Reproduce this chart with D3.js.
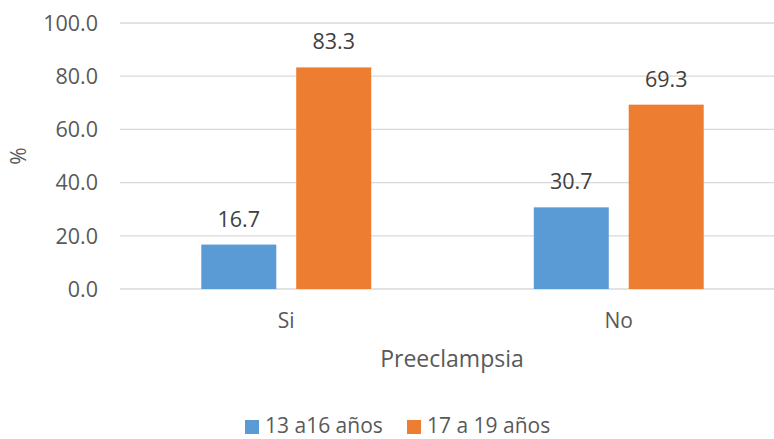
<!DOCTYPE html>
<html>
<head>
<meta charset="utf-8">
<script src="https://cdn.jsdelivr.net/npm/d3@7"></script>
<style>
  html, body { margin: 0; padding: 0; background: #fff; }
  svg { display: block; }
  text { font-family: "Open Sans", "Liberation Sans", sans-serif; fill: #595959; }
</style>
</head>
<body>
<svg id="chart" width="774" height="439"></svg>
<script>
// Preeclampsia by age group (%)
const categories = ["Si", "No"];
const seriesNames = ["13 a16 años", "17 a 19 años"];
const series1 = [16.7, 30.7];
const series2 = [83.3, 69.3];
const yTicks = [0, 20, 40, 60, 80, 100];
const colors = ["#5B9BD5", "#ED7D31"];

const svg = d3.select("#chart");
const plotL = 120, plotR = 785, plotT = 23, plotB = 289;

const x0 = d3.scaleBand().domain(categories).range([plotL, plotR])
  .paddingInner(0.489).paddingOuter(0.2445);
const x1 = d3.scaleBand().domain(seriesNames).range([0, x0.bandwidth()])
  .paddingInner(0.21);
const y = d3.scaleLinear().domain([0, 100]).range([plotB, plotT]);

const fs = 21;

// gridlines
svg.append("g").selectAll("line").data(yTicks).join("line")
  .attr("x1", plotL).attr("x2", plotR)
  .attr("y1", d => y(d)).attr("y2", d => y(d))
  .attr("stroke", "#D9D9D9").attr("stroke-width", 1.3);

// y tick labels
svg.append("g").selectAll("text").data(yTicks).join("text")
  .attr("x", 98).attr("y", d => y(d))
  .attr("dy", "0.36em")
  .attr("text-anchor", "end")
  .attr("font-size", 21.5)
  .text(d => d.toFixed(1));

// y axis title
svg.append("text")
  .attr("transform", "translate(26,156) rotate(-90)")
  .attr("text-anchor", "middle")
  .attr("font-size", fs)
  .text("%");

// bars
const rows = categories.map((c, i) => ({ cat: c, vals: [series1[i], series2[i]] }));
const groups = svg.append("g").selectAll("g").data(rows).join("g")
  .attr("transform", d => `translate(${x0(d.cat)},0)`);

groups.selectAll("rect")
  .data(d => d.vals.map((v, j) => ({ name: seriesNames[j], v, j })))
  .join("rect")
  .attr("x", d => x1(d.name))
  .attr("width", x1.bandwidth())
  .attr("y", d => y(d.v))
  .attr("height", d => y(0) - y(d.v))
  .attr("fill", d => colors[d.j]);

groups.selectAll("text.val")
  .data(d => d.vals.map((v, j) => ({ name: seriesNames[j], v, j })))
  .join("text")
  .attr("class", "val")
  .attr("x", d => x1(d.name) + x1.bandwidth() / 2)
  .attr("y", d => y(d.v) - 18)
  .attr("text-anchor", "middle")
  .attr("font-size", 21.5)
  .style("fill", "#404040")
  .text(d => d.v.toFixed(1));

// category labels
svg.append("g").selectAll("text").data(categories).join("text")
  .attr("x", d => x0(d) + x0.bandwidth() / 2)
  .attr("y", 328)
  .attr("text-anchor", "middle")
  .attr("font-size", fs)
  .text(d => d);

// x axis title
svg.append("text")
  .attr("x", 452).attr("y", 367)
  .attr("text-anchor", "middle")
  .attr("font-size", 23)
  .text("Preeclampsia");

// legend
const legendX = [245, 407];
const lg = svg.append("g").selectAll("g").data(seriesNames).join("g")
  .attr("transform", (d, i) => `translate(${legendX[i]},419)`);
lg.append("rect").attr("y", 1).attr("width", 14).attr("height", 14)
  .attr("fill", (d, i) => colors[i]);
lg.append("text").attr("x", 20).attr("y", 14)
  .attr("font-size", fs)
  .text(d => d);
</script>
</body>
</html>
